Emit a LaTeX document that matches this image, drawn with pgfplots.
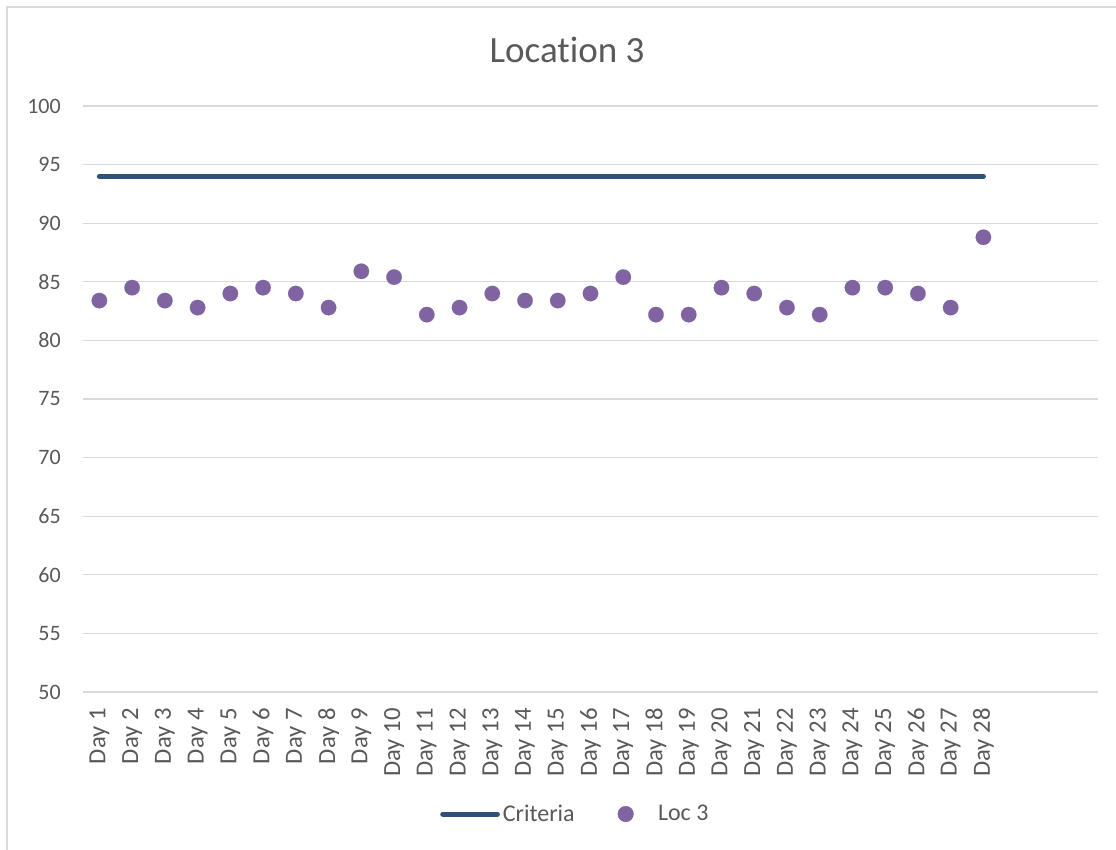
\documentclass[border=0pt]{standalone}
\usepackage{pgfplots}
\pgfplotsset{compat=1.18}
\usepackage{fontspec}
\setmainfont{Carlito}[Ligatures={NoCommon}]
\definecolor{txt}{HTML}{595959}
\definecolor{gridc}{HTML}{D9D9D9}
\definecolor{crit}{HTML}{2F507D}
\definecolor{locp}{HTML}{8064A2}
\begin{document}
\begin{tikzpicture}
\useasboundingbox (0pt,0pt) rectangle (837pt,-636.75pt);
\fill[white] (0pt,0pt) rectangle (837pt,-636.75pt);
\draw[gridc, line width=0.9pt] (5.25pt,-5.25pt) rectangle (850pt,-650pt);
\node[anchor=base, inner sep=0pt, text=txt, font=\fontsize{27.75}{32}\selectfont] at (425.25pt,-47.25pt) {Location 3};
\begin{axis}[
  at={(62.25pt,-519pt)}, anchor=south west,
  scale only axis, width=761.25pt, height=439.5pt,
  xmin=0.5, xmax=31.5, ymin=50, ymax=100,
  ytick={50,55,...,100},
  xtick={1,...,28},
  xticklabels={Day 1,Day 2,Day 3,Day 4,Day 5,Day 6,Day 7,Day 8,Day 9,Day 10,Day 11,Day 12,Day 13,Day 14,Day 15,Day 16,Day 17,Day 18,Day 19,Day 20,Day 21,Day 22,Day 23,Day 24,Day 25,Day 26,Day 27,Day 28},
  axis line style={draw=none},
  major tick length=0pt,
  ymajorgrids, grid style={gridc, line width=0.9pt},
  /pgf/number format/assume math mode=true,
  yticklabel style={anchor=east, inner sep=0pt, xshift=-16.5pt, text=txt, font=\fontsize{16.5}{18}\selectfont},
  xticklabel style={rotate=90, anchor=east, inner xsep=12pt, inner ysep=0pt, text=txt, font=\fontsize{18.5}{20}\selectfont},
  legend columns=2,
  legend style={at={(0.3517,-0.2082)}, anchor=west, draw=none, fill=none, inner sep=0pt,
    font=\fontsize{18}{20}\selectfont,
    nodes={inner xsep=2.25pt, inner ysep=0pt, text=txt},
    /tikz/every even column/.append style={column sep=30pt}},
  clip=false,
]
\addplot[color=crit, line width=3.75pt, line cap=round,
  legend image code/.code={\draw[color=crit,line width=3.75pt,line cap=round] (0pt,0pt)--(41pt,0pt);}]
  coordinates {(1,94) (28,94)};
\addlegendentry{Criteria}
\addplot[color=locp, only marks, mark=*, mark size=5.8pt, mark options={draw=locp, fill=locp, line width=0.1pt},
  legend image code/.code={\path[draw=none,fill=none] (-5.8pt,0pt)--(22pt,0pt); \fill[locp] (0pt,0pt) circle (5.8pt);}]
  table {
x y
1 83.4
2 84.5
3 83.4
4 82.8
5 84.0
6 84.5
7 84.0
8 82.8
9 85.9
10 85.4
11 82.2
12 82.8
13 84.0
14 83.4
15 83.4
16 84.0
17 85.4
18 82.2
19 82.2
20 84.5
21 84.0
22 82.8
23 82.2
24 84.5
25 84.5
26 84.0
27 82.8
28 88.8
};
\addlegendentry{Loc 3}
\end{axis}
\end{tikzpicture}
\end{document}
